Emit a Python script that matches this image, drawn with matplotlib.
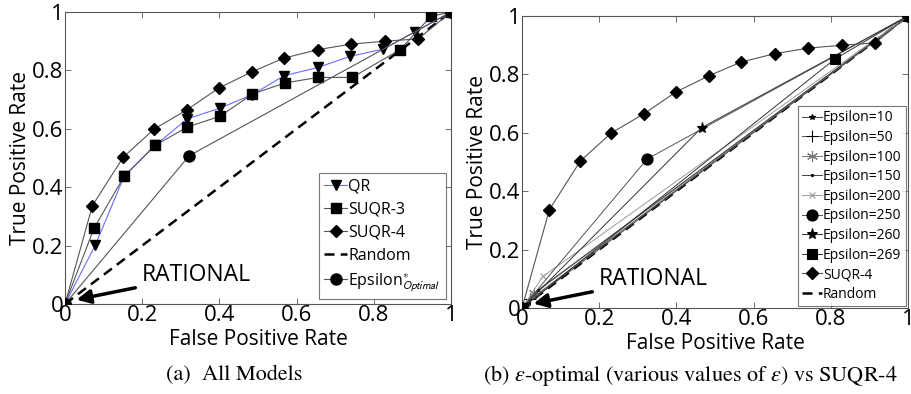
import numpy as np
import matplotlib
matplotlib.use("Agg")
import matplotlib.pyplot as plt

plt.rcParams['font.family'] = ['Open Sans', 'DejaVu Sans']
plt.rcParams['mathtext.fontset'] = 'stix'

# ---- data, panel (a)
qr_fpr = [0, 0.079, 0.153, 0.233, 0.317, 0.402, 0.485, 0.568, 0.655, 0.738, 0.825, 0.907, 1]
qr_tpr = [0, 0.203, 0.437, 0.543, 0.634, 0.671, 0.717, 0.782, 0.810, 0.848, 0.873, 0.932, 1]

suqr3_fpr = [0, 0.075, 0.153, 0.233, 0.317, 0.402, 0.485, 0.570, 0.656, 0.744, 0.868, 0.948, 1]
suqr3_tpr = [0, 0.259, 0.437, 0.543, 0.606, 0.643, 0.719, 0.757, 0.776, 0.776, 0.871, 0.985, 1]

suqr4_fpr = [0, 0.071, 0.151, 0.231, 0.317, 0.399, 0.484, 0.567, 0.655, 0.741, 0.829, 0.915, 1]
suqr4_tpr = [0, 0.337, 0.503, 0.599, 0.666, 0.740, 0.795, 0.842, 0.871, 0.890, 0.900, 0.908, 1]

eps_opt_fpr = [0, 0.322, 1]
eps_opt_tpr = [0, 0.508, 1]

random_fpr = [0, 1]
random_tpr = [0, 1]

# ---- data, panel (b): one operating point per epsilon value
eps_labels = ['Epsilon=10', 'Epsilon=50', 'Epsilon=100', 'Epsilon=150', 'Epsilon=200',
              'Epsilon=250', 'Epsilon=260', 'Epsilon=269']
eps_fpr = [0.012, 0.022, 0.032, 0.042, 0.054, 0.324, 0.466, 0.810]
eps_tpr = [0.014, 0.030, 0.050, 0.062, 0.108, 0.510, 0.618, 0.852]

ticks = [0, 0.2, 0.4, 0.6, 0.8, 1]
tick_labels = ['0', '0.2', '0.4', '0.6', '0.8', '1']

fig = plt.figure(figsize=(9.12, 3.94), dpi=100)
ax1 = fig.add_axes([65/912, 90/394, 386/912, 292/394])
ax2 = fig.add_axes([522/912, 86/394, 386/912, 292/394])


def style(ax):
    ax.set_xlim(0, 1)
    ax.set_ylim(0, 1)
    ax.set_xticks(ticks)
    ax.set_yticks(ticks)
    ax.set_xticklabels(tick_labels, fontsize=16)
    ax.set_yticklabels(tick_labels, fontsize=16)
    ax.tick_params(direction='in', top=True, right=True,
                   length=4, width=0.6, color='#555555', pad=1)
    for s in ax.spines.values():
        s.set_color('#555555')
        s.set_linewidth(0.8)
    ax.set_xlabel('False Positive Rate', fontsize=15, labelpad=2)
    ax.set_ylabel('True Positive Rate', fontsize=15, labelpad=1)
    ax.annotate('RATIONAL', xy=(0.03, 0.015), xytext=(0.2, 0.098),
                fontsize=16.5, va='center', ha='left',
                arrowprops=dict(arrowstyle='-|>,head_length=0.5,head_width=0.25',
                                lw=2.5, color='black', shrinkA=3, shrinkB=0))


# ---- panel (a)
ax1.plot(qr_fpr, qr_tpr, color='#6b6bff', lw=0.8, marker='v', ms=7,
         mfc='black', mec='black', label='QR', zorder=3)
ax1.plot(suqr3_fpr, suqr3_tpr, color='#555555', lw=0.8, marker='s', ms=7,
         mfc='black', mec='black', label='SUQR-3', zorder=3)
ax1.plot(suqr4_fpr, suqr4_tpr, color='#555555', lw=0.8, marker='D', ms=6,
         mfc='black', mec='black', label='SUQR-4', zorder=3)
ax1.plot(random_fpr, random_tpr, color='black', lw=1.8, ls=(0, (4, 2.5)),
         label='Random', zorder=2)
ax1.plot(eps_opt_fpr, eps_opt_tpr, color='#555555', lw=0.8, marker='o', ms=8,
         mfc='black', mec='black', label=r'Epsilon$^{*}_{\mathsf{Optimal}}$', zorder=3)
style(ax1)
leg1 = ax1.legend(loc='lower right', fontsize=11.5, frameon=True, fancybox=False,
                  edgecolor='#555555', handlelength=1.4, handletextpad=0.1,
                  borderaxespad=0.3, labelspacing=0.45, borderpad=0.35)
leg1.get_frame().set_linewidth(0.8)

# ---- panel (b)
markers = ['*', '+', (6, 2, 0), '.', 'x', 'o', '*', 's']
msizes = [4, 9, 8, 3, 5, 8, 8, 7]
lcolors = ['#444444', '#555555', '#777777', '#444444', '#9a9a9a', '#555555', '#333333', '#333333']
for i in range(len(eps_labels)):
    ax2.plot([0, eps_fpr[i], 1], [0, eps_tpr[i], 1], color=lcolors[i], lw=0.7,
             marker=markers[i], ms=msizes[i], mfc='black', mec=lcolors[i] if i in (2, 4) else 'black',
             mew=0.8, label=eps_labels[i], zorder=3)
ax2.plot(suqr4_fpr, suqr4_tpr, color='#555555', lw=0.8, marker='D', ms=6,
         mfc='black', mec='black', label='SUQR-4', zorder=3)
ax2.plot(random_fpr, random_tpr, color='black', lw=1.8, ls=(0, (4, 2.5)),
         label='Random', zorder=2)
style(ax2)
leg2 = ax2.legend(loc='lower right', fontsize=10, frameon=True, fancybox=False,
                  edgecolor='#555555', handlelength=1.4, handletextpad=0.1,
                  borderaxespad=0.15, labelspacing=0.33, borderpad=0.3)
leg2.get_frame().set_linewidth(0.8)

# ---- captions
fig.text(234/912, 19/394, '(a)  All Models', ha='center', va='center',
         fontsize=16, family='STIXGeneral')
fig.text(690/912, 19/394, r'(b) $\epsilon$-optimal (various values of $\epsilon$) vs SUQR-4',
         ha='center', va='center', fontsize=16, family='STIXGeneral')

fig.savefig('out.png', dpi=100)
